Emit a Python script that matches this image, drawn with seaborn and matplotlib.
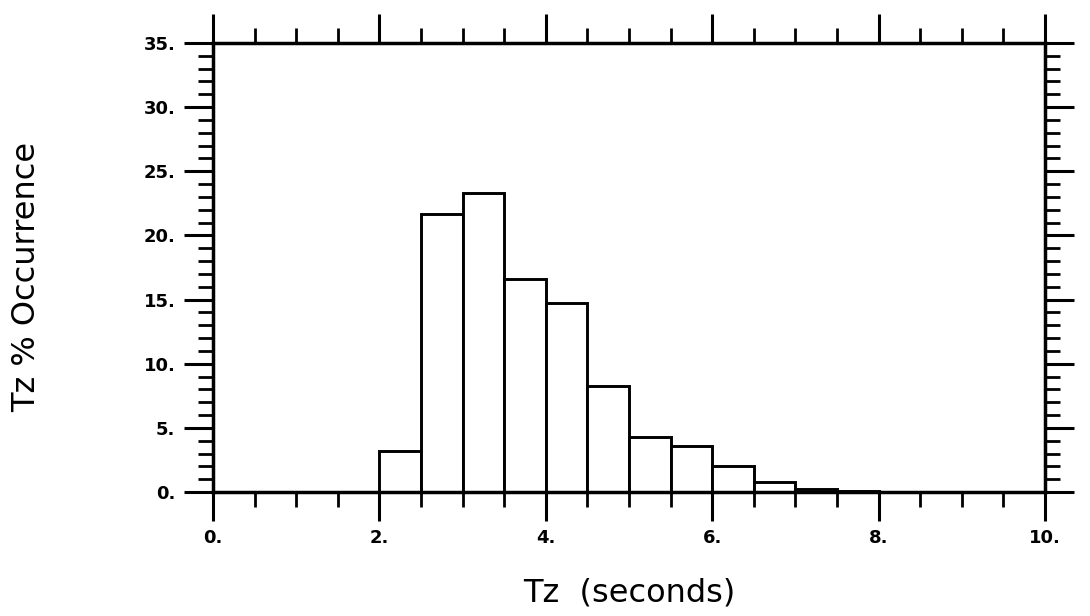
import numpy as np
import pandas as pd
import matplotlib
matplotlib.use("Agg")
import matplotlib.pyplot as plt
import seaborn as sns
from matplotlib.ticker import FixedLocator, FixedFormatter, MultipleLocator

# ---- data ----
bin_edges = [2.0, 2.5, 3.0, 3.5, 4.0, 4.5, 5.0, 5.5, 6.0, 6.5, 7.0, 7.5, 8.0]
pct_occurrence = [3.2, 21.7, 23.3, 16.6, 14.7, 8.3, 4.3, 3.6, 2.0, 0.8, 0.25, 0.1]
x_ticks = [0, 2, 4, 6, 8, 10]
x_tick_labels = ["0.", "2.", "4.", "6.", "8.", "10."]
y_ticks = [0, 5, 10, 15, 20, 25, 30, 35]
y_tick_labels = ["0.", "5.", "10.", "15.", "20.", "25.", "30.", "35."]

bin_centers = [(a + b) / 2 for a, b in zip(bin_edges[:-1], bin_edges[1:])]
df = pd.DataFrame({"Tz": bin_centers, "pct": pct_occurrence})

sns.set_style("white")
plt.rcParams["font.family"] = ["DejaVu Sans"]
plt.rcParams["text.color"] = "black"
plt.rcParams["axes.labelcolor"] = "black"
plt.rcParams["xtick.color"] = "black"
plt.rcParams["ytick.color"] = "black"

fig = plt.figure(figsize=(10.9, 6.16), dpi=100)
ax = fig.add_axes([0.1954, 0.2013, 0.7633, 0.7289])

sns.histplot(data=df, x="Tz", weights="pct", bins=bin_edges, ax=ax,
             color="white", edgecolor="black", linewidth=2.1, alpha=1.0)

ax.set_xlim(0, 10)
ax.set_ylim(0, 35)

for s in ax.spines.values():
    s.set_visible(True)
    s.set_linewidth(2.5)
    s.set_color("black")

ax.xaxis.set_major_locator(FixedLocator(x_ticks))
ax.xaxis.set_major_formatter(FixedFormatter(x_tick_labels))
ax.xaxis.set_minor_locator(MultipleLocator(0.5))
ax.yaxis.set_major_locator(FixedLocator(y_ticks))
ax.yaxis.set_major_formatter(FixedFormatter(y_tick_labels))
ax.yaxis.set_minor_locator(MultipleLocator(1))

ax.tick_params(which="both", direction="out", top=True, right=True,
               bottom=True, left=True, labeltop=False, labelright=False,
               color="black", labelcolor="black")
ax.tick_params(which="major", length=21, width=2.2, labelsize=13, pad=6)
ax.tick_params(which="minor", length=11, width=2.0)
for lab in ax.get_xticklabels() + ax.get_yticklabels():
    lab.set_fontweight("bold")

ax.set_xlabel("Tz  (seconds)", fontsize=23, color="black")
ax.set_ylabel("Tz % Occurrence", fontsize=23, color="black")
ax.xaxis.set_label_coords(0.50, -0.19)
ax.yaxis.set_label_coords(-0.205, 0.48)

fig.savefig("out.png", dpi=100, facecolor="white")
